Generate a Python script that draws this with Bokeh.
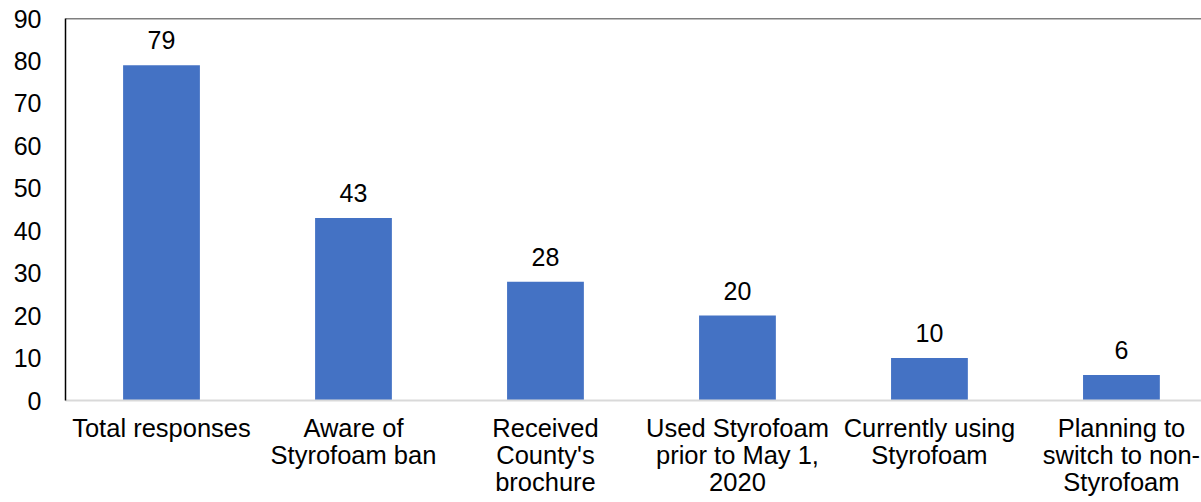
from bokeh.plotting import figure
from bokeh.models import ColumnDataSource, FixedTicker, Span
from bokeh.core.properties import value
from bokeh.embed import file_html
from bokeh.resources import INLINE

categories = ["Total responses", "Aware of\nStyrofoam ban", "Received\nCounty's\nbrochure",
              "Used Styrofoam\nprior to May 1,\n2020", "Currently using\nStyrofoam",
              "Planning to\nswitch to non-\nStyrofoam"]
counts = [79, 43, 28, 20, 10, 6]
y_ticks = [0, 10, 20, 30, 40, 50, 60, 70, 80, 90]

xs = [i + 0.5 for i in range(len(categories))]
src = ColumnDataSource(dict(x=xs, y=counts, label=[str(v) for v in counts]))

FONT = "Liberation Sans"

# the plot area of the original runs past the right edge of the view
p = figure(width=1201, height=502, output_backend="svg", toolbar_location=None,
           x_range=(0, 5.917), y_range=(0, 90),
           min_border_left=65, min_border_top=18, min_border_bottom=102, min_border_right=0)
p.outline_line_color = None
p.xgrid.grid_line_color = None
p.ygrid.grid_line_color = None
p.background_fill_color = "white"
p.border_fill_color = "white"

p.vbar(x="x", top="y", width=0.4, bottom=0, source=src, fill_color="#4472C4", line_color=None)
p.text(x="x", y="y", text="label", source=src, text_align="center", text_baseline="alphabetic",
       y_offset=-25, text_font=value(FONT), text_font_size="25px", text_color="#000000")

p.add_layout(Span(location=90, dimension="width", line_color="#000000", line_width=1.5))

p.yaxis.ticker = FixedTicker(ticks=y_ticks)
p.yaxis.major_tick_line_color = None
p.yaxis.minor_tick_line_color = None
p.yaxis.axis_line_color = "#000000"
p.yaxis.axis_line_width = 1.5
p.yaxis.major_label_text_font = FONT
p.yaxis.major_label_text_font_size = "25px"
p.yaxis.major_label_text_color = "#000000"
p.yaxis.major_label_standoff = 18

p.xaxis.ticker = FixedTicker(ticks=xs)
p.xaxis.major_label_overrides = {x: c for x, c in zip(xs, categories)}
p.xaxis.major_tick_line_color = None
p.xaxis.minor_tick_line_color = None
p.xaxis.axis_line_color = "#D9D9D9"
p.xaxis.axis_line_width = 2
p.xaxis.major_label_text_font = FONT
p.xaxis.major_label_text_font_size = "25.5px"
p.xaxis.major_label_text_color = "#000000"
p.xaxis.major_label_text_line_height = 0.98
p.xaxis.major_label_standoff = 7

open("out.html", "w").write(file_html(p, INLINE))
